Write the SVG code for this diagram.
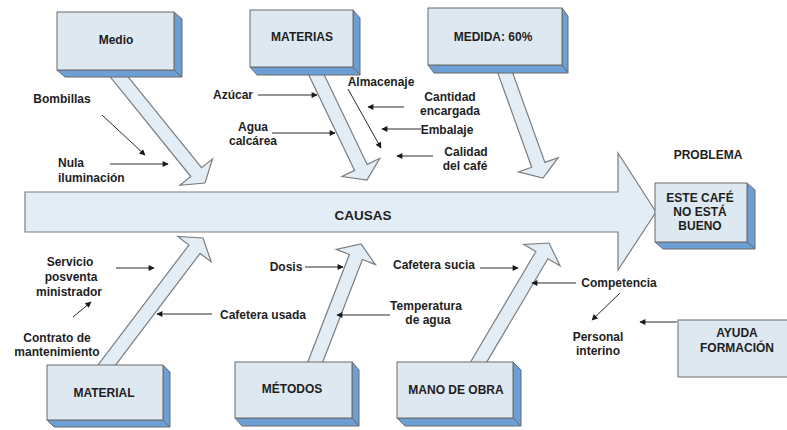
<svg xmlns="http://www.w3.org/2000/svg" width="787" height="430" viewBox="0 0 787 430">
<defs>
<style>
text{font-family:"Liberation Sans",Arial,sans-serif;font-weight:bold;font-size:12px;fill:#1e1e1e;text-anchor:middle}
.lbl{font-size:12px}
.front{fill:#dde8f1;stroke:#6b6b6b;stroke-width:1}
.side{fill:#6c9fd5;stroke:#6b6b6b;stroke-width:1}
.block{fill:#e3edf5;stroke:#7d7d7d;stroke-width:1.2;stroke-linejoin:miter}
.thin{stroke:#2a2a2a;stroke-width:1;fill:none;marker-end:url(#ah)}
</style>
<marker id="ah" viewBox="0 0 10 10" refX="9" refY="5" markerWidth="8" markerHeight="6" markerUnits="userSpaceOnUse" orient="auto">
<path d="M0,0 L10,5 L0,10 z" fill="#1a1a1a"/>
</marker>
</defs>
<rect width="787" height="430" fill="#ffffff"/>

<g id="spine">
<polygon class="block" points="25,192 618,192 618,153 656,212 618,270 618,232 25,232"/>
<text x="363" y="220" style="font-size:13.5px">CAUSAS</text>
</g>

<g id="connectors">
<polygon class="block" points="120.4,67.4 201.6,167.7 212.5,158.9 205,183 179.9,185.3 190.8,176.5 109.6,76.2"/>
<polygon class="block" points="320.8,67.8 367.2,164.4 379.8,158.3 367,180 342,176.5 354.6,170.4 308.2,73.8"/>
<polygon class="block" points="509.9,65.1 544.9,162.4 558.1,157.7 543,178 518.5,171.9 531.7,167.2 496.7,69.9"/>
<polygon class="block" points="107.4,375.8 200.1,253.4 211.2,261.9 203,238 177.8,236.5 188.9,245 96.2,367.4"/>
<polygon class="block" points="318.2,373.7 362.4,259.5 375.5,264.6 361,244 336.3,249.4 349.4,254.5 305.2,368.7"/>
<polygon class="block" points="480.9,371.9 547.9,258.7 560,265.8 549,243 523.8,244.4 535.9,251.5 468.9,364.7"/>

<line class="thin" x1="102" y1="115" x2="145" y2="155"/>
<line class="thin" x1="110" y1="164" x2="168" y2="164"/>
<line class="thin" x1="258" y1="95" x2="317" y2="95"/>
<line class="thin" x1="272" y1="133" x2="335" y2="133"/>
<line class="thin" x1="348" y1="89" x2="381" y2="148"/>
<line class="thin" x1="404" y1="107" x2="368" y2="107"/>
<line class="thin" x1="421" y1="129" x2="382" y2="129"/>
<line class="thin" x1="433" y1="156" x2="397" y2="156"/>
<line class="thin" x1="116" y1="268" x2="154" y2="268"/>
<line class="thin" x1="73" y1="317" x2="91" y2="302"/>
<line class="thin" x1="212" y1="314" x2="157" y2="314"/>
<line class="thin" x1="305" y1="267" x2="343" y2="267"/>
<line class="thin" x1="480" y1="268" x2="518" y2="268"/>
<line class="thin" x1="390" y1="315" x2="337" y2="315"/>
<line class="thin" x1="576" y1="283" x2="532" y2="283"/>
<line class="thin" x1="620" y1="293" x2="592" y2="320"/>
<line class="thin" x1="677" y1="322" x2="640" y2="322"/>
</g>

<g id="medio">
<polygon class="side" points="174,12 182,19 182,77 174,70"/>
<polygon class="side" points="57,70 174,70 182,77 65,77"/>
<rect class="front" x="57" y="12" width="117" height="58"/>
<text class="lbl" x="116" y="44">Medio</text>
</g>
<g id="materias">
<polygon class="side" points="353,10 360,18 360,75 353,67"/>
<polygon class="side" points="250,67 353,67 360,75 257,75"/>
<rect class="front" x="250" y="10" width="103" height="57"/>
<text class="lbl" x="302" y="41">MATERIAS</text>
</g>
<g id="medida">
<polygon class="side" points="562,8 568,16 568,73 562,65"/>
<polygon class="side" points="428,65 562,65 568,73 434,73"/>
<rect class="front" x="428" y="8" width="134" height="57"/>
<text class="lbl" x="493" y="41">MEDIDA: 60%</text>
</g>
<g id="problema">
<text class="lbl" x="708" y="159">PROBLEMA</text>
</g>
<g id="este-cafe">
<polygon class="side" points="747,183 755,190 755,249 747,242"/>
<polygon class="side" points="655,242 747,242 755,249 663,249"/>
<rect class="front" x="655" y="183" width="92" height="59"/>
<text class="lbl" x="700" y="202">ESTE CAFÉ</text>
<text class="lbl" x="700" y="216">NO ESTÁ</text>
<text class="lbl" x="700" y="230">BUENO</text>
</g>
<g id="material">
<polygon class="side" points="163,365 170,372 170,427 163,420"/>
<polygon class="side" points="47,420 163,420 170,427 54,427"/>
<rect class="front" x="47" y="365" width="116" height="55"/>
<text class="lbl" x="104" y="397">MATERIAL</text>
</g>
<g id="metodos">
<polygon class="side" points="352,362 359,370 359,426 352,418"/>
<polygon class="side" points="235,418 352,418 359,426 242,426"/>
<rect class="front" x="235" y="362" width="117" height="56"/>
<text class="lbl" x="292" y="393">MÉTODOS</text>
</g>
<g id="mano-de-obra">
<polygon class="side" points="513,362 521,370 521,426 513,418"/>
<polygon class="side" points="397,418 513,418 521,426 405,426"/>
<rect class="front" x="397" y="362" width="116" height="56"/>
<text class="lbl" x="456" y="394">MANO DE OBRA</text>
</g>
<g id="ayuda">
<rect class="front" x="678" y="320" width="112" height="57"/>
<text class="lbl" x="737" y="337">AYUDA</text>
<text class="lbl" x="737" y="352">FORMACIÓN</text>
</g>

<g id="labels">
<text x="62" y="103">Bombillas</text>
<text x="58" y="167" style="text-anchor:start">Nula</text>
<text x="58" y="182" style="text-anchor:start">iluminación</text>
<text x="233" y="99">Azúcar</text>
<text x="253" y="131">Agua</text>
<text x="253" y="145">calcárea</text>
<text x="381" y="86">Almacenaje</text>
<text x="450" y="101">Cantidad</text>
<text x="450" y="115">encargada</text>
<text x="447" y="134">Embalaje</text>
<text x="466" y="156">Calidad</text>
<text x="465" y="170">del café</text>
<text x="70" y="266">Servicio</text>
<text x="71" y="281">posventa</text>
<text x="69" y="296">ministrador</text>
<text x="57" y="342">Contrato de</text>
<text x="57" y="356">mantenimiento</text>
<text x="263" y="319">Cafetera usada</text>
<text x="286" y="271">Dosis</text>
<text x="434" y="269">Cafetera sucia</text>
<text x="426" y="310">Temperatura</text>
<text x="428" y="324">de agua</text>
<text x="619" y="287">Competencia</text>
<text x="598" y="341">Personal</text>
<text x="598" y="355">interino</text>
</g>
</svg>
